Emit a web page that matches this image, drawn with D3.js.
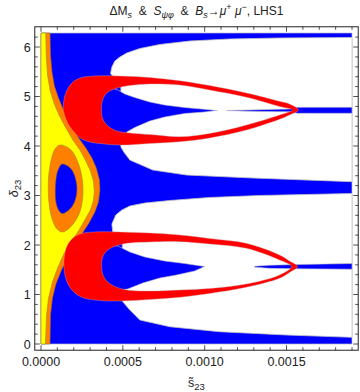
<!DOCTYPE html>
<html>
<head>
<meta charset="utf-8">
<script src="https://cdn.jsdelivr.net/npm/d3@7"></script>
<style>
  body { margin: 0; background: #fff; }
  svg text { font-family: "Liberation Sans", Arial, sans-serif; fill: #222; }
</style>
</head>
<body>
<div id="chart"></div>
<script>
// Axis ranges and ticks
const sDomain = [0, 0.0019];
const deltaDomain = [0, 2 * Math.PI];
const xTicks = [0, 0.0005, 0.0010, 0.0015];
const yTicks = [0, 1, 2, 3, 4, 5, 6];

// Regions, as [s23, delta23] outlines
// white gap, upper half (between top band and middle band)
const whiteUpper = [
  [0.000425, 5.465], [0.000433, 5.596], [0.000451, 5.717], [0.000482, 5.798],
  [0.000524, 5.879], [0.000604, 5.970], [0.000726, 6.051], [0.000909, 6.121],
  [0.001152, 6.162], [0.001457, 6.182], [0.0019, 6.192], [0.0019, 3.279],
  [0.001293, 3.354], [0.00089, 3.414], [0.000683, 3.515], [0.000543, 3.717],
  [0.000506, 3.879], [0.000488, 3.980], [0.000488, 5.394], [0.000439, 5.404]
];
// white gap, lower half (between middle band and bottom band)
const whiteLower = [
  [0.000433, 2.424], [0.000457, 2.606], [0.000494, 2.707], [0.000543, 2.788],
  [0.000634, 2.848], [0.000787, 2.899], [0.00103, 2.960], [0.001335, 3.0],
  [0.0019, 3.040], [0.0019, 0.135], [0.0015, 0.182], [0.001091, 0.248],
  [0.000787, 0.349], [0.000604, 0.485], [0.000543, 0.687], [0.000506, 0.828],
  [0.000497, 0.869], [0.000497, 2.242], [0.000439, 2.242]
];
// blue tongue inside each red crescent
const tongueUpper = [
  [0.001079, 4.717], [0.001061, 4.721], [0.001, 4.741], [0.000878, 4.778],
  [0.000756, 4.828], [0.000665, 4.889], [0.000573, 4.980], [0.000512, 5.051],
  [0.00047, 5.131], [0.000433, 5.172], [0.000384, 5.091], [0.00036, 4.889],
  [0.000357, 4.707], [0.000366, 4.525], [0.000402, 4.364], [0.000457, 4.253],
  [0.000512, 4.232], [0.000524, 4.283], [0.000573, 4.374], [0.000665, 4.505],
  [0.000756, 4.586], [0.000878, 4.657], [0.001, 4.687], [0.001061, 4.711]
];
const tongueLower = [
  [0.001, 1.566], [0.000878, 1.626], [0.000756, 1.677], [0.000634, 1.758],
  [0.000543, 1.859], [0.00047, 1.980], [0.000421, 1.990], [0.000378, 1.879],
  [0.00036, 1.737], [0.000357, 1.576], [0.00036, 1.434], [0.000384, 1.253],
  [0.000421, 1.141], [0.000482, 1.091], [0.00053, 1.111], [0.000622, 1.232],
  [0.000726, 1.333], [0.000829, 1.394], [0.000939, 1.475]
];
// thin blue spikes running to the right edge
const spikeUpper = [
  [0.001134, 4.717], [0.001335, 4.735], [0.001518, 4.747], [0.001567, 4.782],
  [0.0019, 4.782], [0.0019, 4.661], [0.001567, 4.661], [0.001518, 4.691],
  [0.001335, 4.699], [0.001134, 4.713]
];
const spikeLower = [
  [0.001305, 1.572], [0.001396, 1.592], [0.001567, 1.606], [0.0019, 1.626],
  [0.0019, 1.511], [0.001567, 1.519], [0.001396, 1.529], [0.001305, 1.552]
];
// red crescents (outer edge and inner edge)
const redUpperOuter = [
  [0.001573, 4.727], [0.001518, 4.848], [0.001457, 4.903], [0.001256, 5.071],
  [0.00103, 5.222], [0.000848, 5.319], [0.000665, 5.384], [0.000482, 5.414],
  [0.000329, 5.414], [0.00025, 5.384], [0.000195, 5.293], [0.000159, 5.131],
  [0.00014, 4.929], [0.000137, 4.727], [0.000152, 4.545], [0.000177, 4.384],
  [0.000207, 4.263], [0.000244, 4.152], [0.000299, 4.081], [0.00036, 4.051],
  [0.000482, 4.020], [0.000665, 4.051], [0.000848, 4.087], [0.00103, 4.162],
  [0.001256, 4.323], [0.001457, 4.539], [0.001518, 4.626]
];
const redUpperInner = [
  [0.001537, 4.727], [0.001457, 4.798], [0.001256, 4.984], [0.00103, 5.131],
  [0.000848, 5.232], [0.000665, 5.253], [0.000543, 5.222], [0.000457, 5.162],
  [0.000402, 5.071], [0.000375, 4.909], [0.000369, 4.727], [0.000378, 4.545],
  [0.000409, 4.404], [0.000463, 4.303], [0.000543, 4.263], [0.000665, 4.232],
  [0.000848, 4.188], [0.00103, 4.253], [0.001256, 4.424], [0.001457, 4.626]
];
const redLowerOuter = [
  [0.001567, 1.566], [0.001518, 1.677], [0.001457, 1.798], [0.001254, 2.034],
  [0.00103, 2.131], [0.000848, 2.202], [0.000665, 2.242], [0.000482, 2.263],
  [0.000329, 2.263], [0.00025, 2.232], [0.000195, 2.141], [0.000159, 1.980],
  [0.000143, 1.778], [0.00014, 1.566], [0.000149, 1.354], [0.000171, 1.172],
  [0.000207, 1.030], [0.000262, 0.929], [0.00036, 0.879], [0.000482, 0.869],
  [0.000665, 0.899], [0.000848, 0.943], [0.00103, 1.020], [0.001254, 1.145],
  [0.001457, 1.327], [0.001518, 1.444]
];
const redLowerInner = [
  [0.00153, 1.566], [0.001457, 1.697], [0.001254, 1.933], [0.00103, 2.020],
  [0.000848, 2.067], [0.000665, 2.061], [0.000524, 2.034], [0.000433, 1.949],
  [0.00039, 1.838], [0.000372, 1.697], [0.00037, 1.576], [0.000375, 1.434],
  [0.000396, 1.293], [0.000439, 1.182], [0.000524, 1.091], [0.000665, 1.071],
  [0.000848, 1.091], [0.00103, 1.121], [0.001254, 1.212], [0.001457, 1.394]
];
// yellow / orange regions near s23 = 0
const orangeBand = [
  [0, 6.2832], [0.000055, 6.2832], [0.000058, 5.838], [0.000067, 5.495],
  [0.000082, 5.212], [0.000107, 4.970], [0.000137, 4.727], [0.000177, 4.444],
  [0.000226, 4.182], [0.000274, 3.960], [0.000311, 3.758], [0.000338, 3.556],
  [0.000357, 3.313], [0.00036, 3.111], [0.000351, 2.869], [0.000329, 2.667],
  [0.000293, 2.444], [0.00025, 2.222], [0.000207, 2.0], [0.000165, 1.758],
  [0.000125, 1.495], [0.000091, 1.212], [0.00007, 0.929], [0.000058, 0.586],
  [0.000055, 0], [0, 0]
];
const yellowBand = [
  [0, 6.2832], [0.000029, 6.2832], [0.000032, 5.838], [0.00004, 5.434],
  [0.000055, 5.131], [0.000079, 4.869], [0.00011, 4.626], [0.000152, 4.364],
  [0.000195, 4.121], [0.000238, 3.919], [0.000274, 3.697], [0.000302, 3.495],
  [0.00032, 3.293], [0.000326, 3.091], [0.00032, 2.889], [0.000302, 2.707],
  [0.000268, 2.505], [0.000229, 2.283], [0.000183, 2.061], [0.00014, 1.818],
  [0.000104, 1.556], [0.00007, 1.253], [0.000046, 0.929], [0.000034, 0.586],
  [0.000027, 0], [0, 0]
];
const orangeRing = [
  [0.000116, 4.020], [0.000152, 3.990], [0.000189, 3.899], [0.00022, 3.717],
  [0.000244, 3.475], [0.000256, 3.192], [0.000253, 2.909], [0.000235, 2.646],
  [0.000201, 2.444], [0.000159, 2.303], [0.000128, 2.263], [0.000098, 2.323],
  [0.00007, 2.505], [0.000052, 2.768], [0.000045, 3.051], [0.000046, 3.354],
  [0.000058, 3.657], [0.000079, 3.899], [0.000098, 3.990]
];
const blueHole = [
  [0.000128, 3.636], [0.000159, 3.606], [0.000189, 3.515], [0.00021, 3.354],
  [0.00022, 3.152], [0.000213, 2.949], [0.000192, 2.788], [0.000159, 2.677],
  [0.000128, 2.636], [0.000107, 2.707], [0.000091, 2.869], [0.000087, 3.071],
  [0.000091, 3.313], [0.000104, 3.515]
];

const width = 360, height = 392;
const margin = { left: 41, right: 8, top: 33, bottom: 48 };
const pad = 0.02; // frame padding around the plot range

const svg = d3.select('#chart')
    .append('svg')
    .attr('width', width)
    .attr('height', height);

const x = d3.scaleLinear().domain(sDomain).range([margin.left, width - margin.right]);
const y = d3.scaleLinear().domain(deltaDomain).range([height - margin.bottom, margin.top]);

const polygon = d3.line().x(d => x(d[0])).y(d => y(d[1])).curve(d3.curveLinearClosed);
const smooth = d3.line().x(d => x(d[0])).y(d => y(d[1])).curve(d3.curveCatmullRomClosed.alpha(0.5));

const plot = svg.append('g');

// blue base
const base = [[sDomain[0], deltaDomain[0]], [sDomain[1], deltaDomain[0]],
              [sDomain[1], deltaDomain[1]], [sDomain[0], deltaDomain[1]]];
plot.append('path').attr('d', polygon(base))
    .attr('fill', '#0000ff').attr('stroke', '#b8b8c8').attr('stroke-width', 0.7);

// white gaps
[whiteUpper, whiteLower].forEach(p => {
  plot.append('path').attr('d', polygon(p))
      .attr('fill', '#fff').attr('stroke', '#c4c4c4').attr('stroke-width', 0.8);
});

// blue tongues and spikes back on top
[tongueUpper, tongueLower, spikeUpper, spikeLower].forEach(p => {
  plot.append('path').attr('d', polygon(p))
      .attr('fill', '#0000ff').attr('stroke', '#c4c4c4').attr('stroke-width', 0.6);
});

// yellow / orange region
plot.append('path').attr('d', polygon(orangeBand))
    .attr('fill', '#ff8000').attr('stroke', '#9a6a20').attr('stroke-width', 0.6);
plot.append('path').attr('d', polygon(yellowBand))
    .attr('fill', '#ffff00').attr('stroke', '#9a8a20').attr('stroke-width', 0.6);
plot.append('path').attr('d', smooth(orangeRing))
    .attr('fill', '#ff8000').attr('stroke', '#9a8a20').attr('stroke-width', 0.6);
plot.append('path').attr('d', smooth(blueHole))
    .attr('fill', '#0000ff').attr('stroke', '#8a5a30').attr('stroke-width', 0.6);

// red crescents
[[redUpperOuter, redUpperInner], [redLowerOuter, redLowerInner]].forEach(([o, i]) => {
  plot.append('path').attr('d', smooth(o) + smooth(i))
      .attr('fill', '#ff0000').attr('fill-rule', 'evenodd')
      .attr('stroke', '#c8a8a8').attr('stroke-width', 0.4);
});

// frame
const sPad = (sDomain[1] - sDomain[0]) * pad;
const dPad = (deltaDomain[1] - deltaDomain[0]) * pad;
const fx0 = x(sDomain[0] - sPad), fx1 = x(sDomain[1] + sPad);
const fy0 = y(deltaDomain[1] + dPad), fy1 = y(deltaDomain[0] - dPad);
svg.append('rect')
    .attr('x', fx0).attr('y', fy0)
    .attr('width', fx1 - fx0).attr('height', fy1 - fy0)
    .attr('fill', 'none').attr('stroke', '#222').attr('stroke-width', 1);

// ticks (inward on all four sides)
const xMinor = d3.range(0, 0.00191, 0.0001);
const yMinor = d3.range(0, 6.21, 0.2);
const tickG = svg.append('g').attr('stroke', '#222').attr('stroke-width', 0.8);
xMinor.forEach(v => {
  const major = xTicks.some(t => Math.abs(t - v) < 1e-9);
  const len = major ? 5 : 3;
  tickG.append('line').attr('x1', x(v)).attr('x2', x(v)).attr('y1', fy1).attr('y2', fy1 - len);
  tickG.append('line').attr('x1', x(v)).attr('x2', x(v)).attr('y1', fy0).attr('y2', fy0 + len);
});
yMinor.forEach(v => {
  const major = yTicks.some(t => Math.abs(t - v) < 1e-9);
  const len = major ? 5 : 3;
  tickG.append('line').attr('y1', y(v)).attr('y2', y(v)).attr('x1', fx0).attr('x2', fx0 + len);
  tickG.append('line').attr('y1', y(v)).attr('y2', y(v)).attr('x1', fx1).attr('x2', fx1 - len);
});

// tick labels
svg.append('g').selectAll('text').data(xTicks).enter().append('text')
    .attr('x', d => x(d)).attr('y', fy1 + 16)
    .attr('text-anchor', 'middle').style('font-size', '12.5px')
    .text(d => d3.format('.4f')(d));
svg.append('g').selectAll('text').data(yTicks).enter().append('text')
    .attr('x', fx0 - 4).attr('y', d => y(d) + 4.5)
    .attr('text-anchor', 'end').style('font-size', '12.5px')
    .text(d => d);

// axis labels
const xl = svg.append('text').attr('x', (x(sDomain[0]) + x(sDomain[1])) / 2).attr('y', 387)
    .attr('text-anchor', 'middle').style('font-size', '12.5px');
xl.append('tspan').text('s\u0303');
xl.append('tspan').attr('dy', 3).style('font-size', '9.5px').text('23');

const yl = svg.append('text')
    .attr('transform', `translate(18,${y(Math.PI)}) rotate(-90)`)
    .attr('text-anchor', 'middle').style('font-size', '12.5px');
yl.append('tspan').style('font-style', 'italic').text('\u03b4');
yl.append('tspan').attr('dy', 3).style('font-size', '9.5px').text('23');

// title
const title = svg.append('text').attr('x', (x(sDomain[0]) + x(sDomain[1])) / 2).attr('y', 15)
    .attr('text-anchor', 'middle').style('font-size', '12px');
title.append('tspan').text('\u0394M');
title.append('tspan').attr('dy', 3).style('font-size', '9px').style('font-style', 'italic').text('s');
title.append('tspan').attr('dy', -3).text('\u00a0 &\u00a0 ');
title.append('tspan').style('font-style', 'italic').text('S');
title.append('tspan').attr('dy', 3).style('font-size', '9px').style('font-style', 'italic').text('\u03c8\u03c6');
title.append('tspan').attr('dy', -3).text('\u00a0 &\u00a0 ');
title.append('tspan').style('font-style', 'italic').text('B');
title.append('tspan').attr('dy', 3).style('font-size', '9px').style('font-style', 'italic').text('s');
title.append('tspan').attr('dy', -3).text('\u2192');
title.append('tspan').style('font-style', 'italic').text('\u03bc');
title.append('tspan').attr('dy', -5).style('font-size', '9px').text('+');
title.append('tspan').attr('dy', 5).style('font-style', 'italic').text('\u00a0\u03bc');
title.append('tspan').attr('dy', -5).style('font-size', '9px').text('\u2212');
title.append('tspan').attr('dy', 5).text(', LHS1');
</script>
</body>
</html>
